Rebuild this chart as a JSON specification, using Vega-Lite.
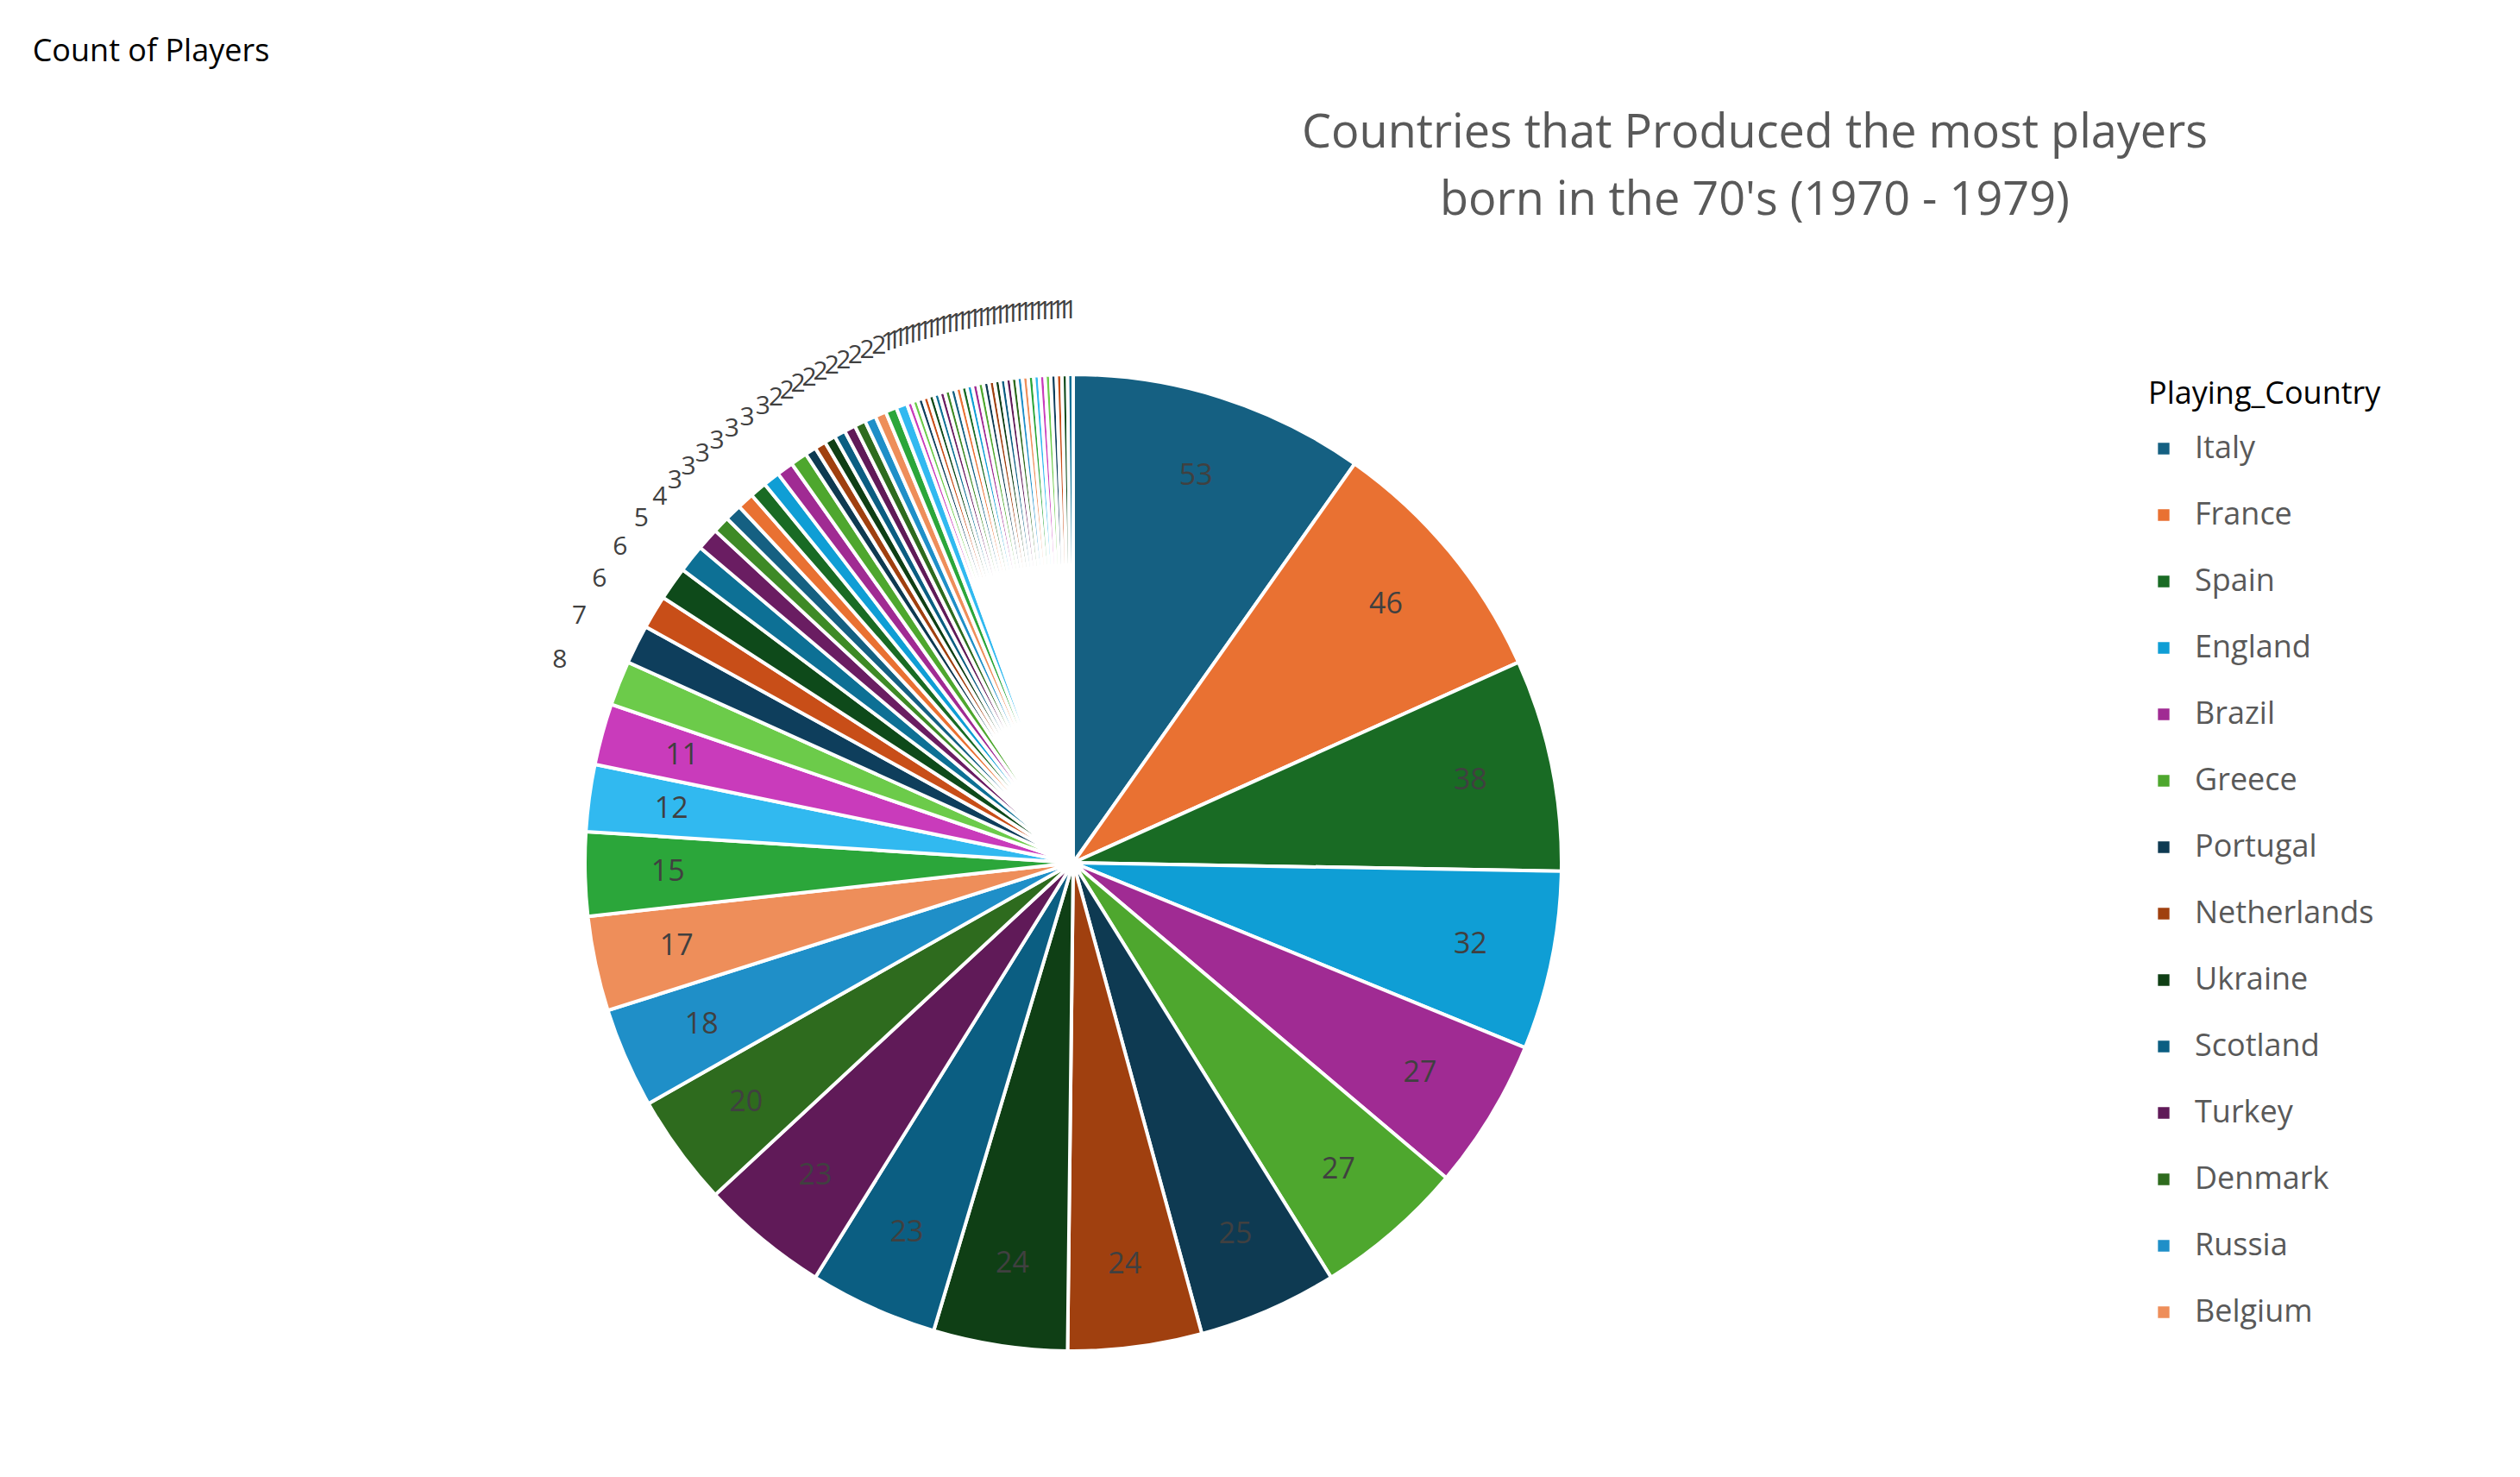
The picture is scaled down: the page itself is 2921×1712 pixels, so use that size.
{
"$schema":"https://vega.github.io/schema/vega-lite/v6.json",
"width":2921,"height":1712,"autosize":"none","padding":0,
"background":"white",
"title":{"text":["Countries that Produced the most players","born in the 70's (1970 - 1979)"],"font":"Open Sans","fontSize":54,"fontWeight":"normal","color":"#595959","anchor":"start","frame":"group","offset":-260,"dx":2034,"align":"center","lineHeight":78},
"datasets":{"d":[
{"country":"Italy","players":53,"rank":1},{"country":"France","players":46,"rank":2},{"country":"Spain","players":38,"rank":3},{"country":"England","players":32,"rank":4},{"country":"Brazil","players":27,"rank":5},{"country":"Greece","players":27,"rank":6},{"country":"Portugal","players":25,"rank":7},{"country":"Netherlands","players":24,"rank":8},{"country":"Ukraine","players":24,"rank":9},{"country":"Scotland","players":23,"rank":10},{"country":"Turkey","players":23,"rank":11},{"country":"Denmark","players":20,"rank":12},{"country":"Russia","players":18,"rank":13},{"country":"Belgium","players":17,"rank":14},
{"country":"Argentina","players":15,"rank":15},{"country":"Germany","players":12,"rank":16},{"country":"Sweden","players":11,"rank":17},{"country":"Switzerland","players":8,"rank":18},{"country":"Norway","players":7,"rank":19},{"country":"Austria","players":6,"rank":20},{"country":"Croatia","players":6,"rank":21},{"country":"Czech Republic","players":5,"rank":22},{"country":"Poland","players":4,"rank":23},
{"country":"Serbia","players":3,"rank":24},{"country":"Romania","players":3,"rank":25},{"country":"Bulgaria","players":3,"rank":26},{"country":"Cyprus","players":3,"rank":27},{"country":"Israel","players":3,"rank":28},{"country":"Hungary","players":3,"rank":29},{"country":"Slovakia","players":3,"rank":30},
{"country":"Slovenia","players":2,"rank":31},{"country":"Wales","players":2,"rank":32},{"country":"Ireland","players":2,"rank":33},{"country":"Belarus","players":2,"rank":34},{"country":"Georgia","players":2,"rank":35},{"country":"Finland","players":2,"rank":36},{"country":"Iceland","players":2,"rank":37},{"country":"Colombia","players":2,"rank":38},{"country":"Chile","players":2,"rank":39},{"country":"Uruguay","players":2,"rank":40},
{"country":"Mexico","players":1,"rank":41},{"country":"USA","players":1,"rank":42},{"country":"Japan","players":1,"rank":43},{"country":"Australia","players":1,"rank":44},{"country":"Nigeria","players":1,"rank":45},{"country":"Cameroon","players":1,"rank":46},{"country":"Ghana","players":1,"rank":47},{"country":"Senegal","players":1,"rank":48},{"country":"Morocco","players":1,"rank":49},{"country":"Egypt","players":1,"rank":50},{"country":"Tunisia","players":1,"rank":51},{"country":"Algeria","players":1,"rank":52},{"country":"South Africa","players":1,"rank":53},{"country":"Canada","players":1,"rank":54},{"country":"China","players":1,"rank":55},{"country":"Korea","players":1,"rank":56},{"country":"Iran","players":1,"rank":57},{"country":"Saudi Arabia","players":1,"rank":58},{"country":"Qatar","players":1,"rank":59},{"country":"UAE","players":1,"rank":60},{"country":"Peru","players":1,"rank":61},{"country":"Paraguay","players":1,"rank":62},{"country":"Ecuador","players":1,"rank":63},{"country":"Venezuela","players":1,"rank":64},{"country":"Bosnia","players":1,"rank":65},{"country":"Albania","players":1,"rank":66},{"country":"Macedonia","players":1,"rank":67},{"country":"Montenegro","players":1,"rank":68},{"country":"Latvia","players":1,"rank":69},{"country":"Lithuania","players":1,"rank":70}
]},
"layer":[
{"data":{"name":"d"},
"mark":{"type":"arc","x":1244,"y":1000,"outerRadius":566,"stroke":"white","strokeWidth":4},
"encoding":{
"theta":{"field":"players","type":"quantitative","stack":true},
"order":{"field":"rank","type":"quantitative"},
"color":{"field":"country","type":"nominal","sort":{"field":"rank"},
"scale":{"range":["#156082","#E97132","#196B24","#0F9ED5","#A02B93","#4EA72E","#0E3A52","#A0400F","#0F3F15","#0B5E82","#601A58","#2E6B1E","#1F8FC8","#EE8E5A","#2BA63A","#31B9F0","#C93BBB","#6CCB4A","#0E3E5C","#C84E18","#0E4A1A","#0D7095","#6A1D62","#3E8A26"]},
"legend":{"values":["Italy","France","Spain","England","Brazil","Greece","Portugal","Netherlands","Ukraine","Scotland","Turkey","Denmark","Russia","Belgium"],"title":"Playing_Country","orient":"none","legendX":2490,"legendY":440,"titleFont":"Open Sans","titleFontSize":36,"titleFontWeight":"normal","titleColor":"#000000","titlePadding":26,"titleLimit":600,"labelLimit":600,"labelFont":"Open Sans","labelFontSize":36,"labelColor":"#595959","symbolType":"square","symbolSize":220,"rowPadding":41,"labelOffset":18}}}},
{"data":{"name":"d"},
"mark":{"type":"text","x":1244,"y":1000,"radius":470,"font":"Open Sans","fontSize":34,"color":"#404040"},
"encoding":{
"theta":{"field":"players","type":"quantitative","stack":true},
"order":{"field":"rank","type":"quantitative"},
"text":{"field":"players"},
"opacity":{"condition":{"test":"datum.players >= 11","value":1},"value":0}}},
{"data":{"name":"d"},
"mark":{"type":"text","x":1244,"y":1000,"radius":640,"font":"Open Sans","fontSize":30,"color":"#404040"},
"encoding":{
"theta":{"field":"players","type":"quantitative","stack":true},
"order":{"field":"rank","type":"quantitative"},
"text":{"field":"players"},
"opacity":{"condition":{"test":"datum.players < 11","value":1},"value":0}}},
{"data":{"values":[{"t":"Count of Players"}]},
"mark":{"type":"text","x":175,"y":60,"font":"Open Sans","fontSize":36,"color":"#000000"},
"encoding":{"text":{"field":"t"}}}
]
}
